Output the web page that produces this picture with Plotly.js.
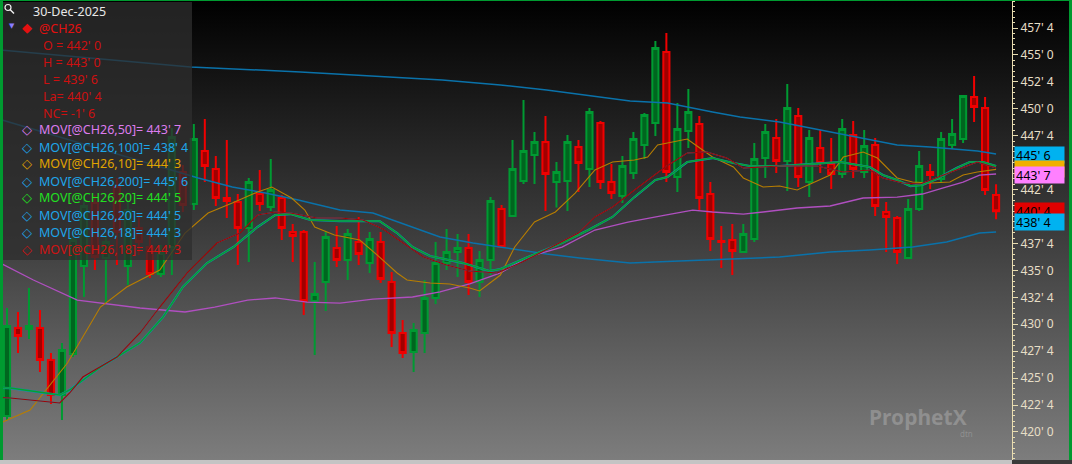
<!DOCTYPE html>
<html><head><meta charset="utf-8">
<script src="https://cdn.plot.ly/plotly-3.0.1.min.js"></script>
<style>
html,body{margin:0;padding:0;background:#000;overflow:hidden}
#wrap{position:relative;width:1072px;height:464px;background:linear-gradient(to bottom,#000 0%,#3c3c3c 50%,#7e7e7e 100%);}
#chart{position:absolute;left:0;top:0;width:1072px;height:464px}
.b{position:absolute;pointer-events:none}
</style></head><body>
<div id="wrap"><div id="chart"></div>
<div class="b" style="left:0;top:0;width:3px;height:460px;background:#009a30"></div>
<div class="b" style="left:0;top:0;width:1072px;height:1px;background:#009a30"></div>
<div class="b" style="left:1069px;top:0;width:3px;height:460px;background:#009a30"></div>
<div class="b" style="left:0;top:460px;width:1012px;height:4px;background:#c4c4c4"></div>
<div class="b" style="left:1012px;top:460px;width:60px;height:4px;background:#3a3a3a"></div>
</div>
<script>
// ---- Data ----
const openP = [421.48,429.65,429.56,429.65,426.68,423.43,427.24,435.41,441.25,436.15,442.74,435.41,438.93,437.17,434.66,437.17,444.13,441.16,446.08,444.41,441.72,441.35,438.93,442.09,440.88,441.72,438.56,438.56,432.16,433.92,437.08,435.96,437.63,435.68,437.63,433.92,429.19,427.42,429.19,432.44,435.68,436.7,437.08,433.92,435.96,440.7,440.05,443.3,445.71,446.92,443.2,443.3,446.45,444.41,448.68,443.2,441.9,444.04,446.64,448.68,455.27,443.67,447.94,448.59,442.09,437.73,437.82,436.7,437.91,445.43,447.29,445.15,449.33,443.2,446.36,444.88,443.95,447.57,444.13,446.64,440.42,439.86,436.15,440.7,444.13,443.48,446.64,447.2,451.09,450.07,442.0];
const highP = [431.51,431.14,433.36,431.32,427.33,428.26,438.56,441.72,442.0,438.19,443.58,441.53,440.14,438.28,437.36,448.22,444.78,448.59,449.05,445.62,447.1,442.09,443.58,444.32,445.34,442.0,439.3,438.75,435.78,438.56,439.12,438.84,439.95,438.56,438.56,434.85,430.39,430.11,434.11,437.63,438.84,438.38,438.38,436.8,441.81,441.07,447.1,450.82,447.85,449.33,445.06,447.57,447.1,450.07,448.87,444.88,445.62,447.85,449.61,456.29,457.04,450.54,451.84,449.33,443.2,439.12,439.3,439.3,446.82,448.59,449.05,452.3,450.07,448.03,448.03,447.29,449.05,448.87,448.03,447.29,441.35,440.05,441.63,446.08,444.88,447.85,449.05,451.28,453.04,451.09,443.0];
const lowP = [421.11,427.33,428.63,425.57,422.6,421.11,426.96,432.53,435.04,431.97,435.5,433.64,436.43,434.29,434.39,434.57,440.42,440.6,443.2,440.98,439.86,435.5,435.78,440.51,440.51,437.82,435.78,430.86,427.14,431.23,435.31,434.11,435.5,434.76,433.83,427.89,426.87,425.57,427.33,431.88,435.04,434.39,432.71,432.53,434.57,437.08,439.95,443.02,443.02,440.51,440.83,440.51,442.28,442.74,442.55,441.63,441.25,443.48,445.34,447.47,443.2,442.28,446.36,440.6,436.8,435.22,434.57,436.61,437.63,443.58,444.04,442.37,442.74,441.81,444.04,442.55,443.58,443.58,443.58,440.05,436.7,435.59,436.06,440.51,442.55,443.11,446.27,446.82,448.77,442.0,439.75];
const closeP = [429.84,428.91,429.84,426.68,423.43,427.61,437.82,440.98,436.24,437.63,438.56,440.6,437.63,434.66,436.61,447.38,441.07,447.2,444.69,441.72,441.44,438.93,443.2,441.16,442.46,438.93,438.19,432.16,432.81,438.1,435.96,438.38,436.52,437.91,434.2,429.19,427.33,429.47,432.44,435.68,436.7,437.08,433.92,435.96,441.44,437.17,444.41,446.08,446.92,443.95,444.13,446.92,444.97,449.7,443.2,442.18,444.69,447.2,449.42,455.64,444.13,448.12,449.7,441.72,437.91,437.63,436.8,438.38,445.34,447.85,445.15,450.07,443.67,447.29,444.97,443.95,448.12,444.41,446.55,440.98,439.95,436.7,440.7,444.69,443.85,447.2,447.66,451.19,450.17,442.46,440.5];
const barIdx = openP.map((_, i) => i);

const ma10Idx = [-0.6,2.1,5.5,8.5,10.9,13.9,16.2,18.3,20.5,22.8,24.1,25.9,27.1,28.0,29.8,32.1,33.9,35.5,36.4,38.5,40.3,42.1,43.0,43.9,44.9,46.2,48.0,49.9,51.7,53.5,55.1,57.1,58.3,59.2,60.1,61.9,62.4,64.2,66.1,67.0,68.8,70.3,71.9,73.3,74.9,76.1,77.9,79.2,81.0,82.4,84.0,85.8,87.0,88.3,90];
const ma10Val = [420.83,422.04,426.4,431.6,433.46,435.04,438.47,440.33,441.25,442.28,442.74,441.72,440.6,439.03,438.28,437.82,436.24,434.76,434.11,433.83,433.74,433.36,433.09,433.83,434.57,437.17,439.49,440.42,442.18,444.32,445.06,445.25,445.52,446.64,446.82,447.2,446.82,445.52,444.6,443.58,442.74,442.83,442.46,443.11,443.85,445.52,445.99,445.43,443.58,443.2,443.11,443.2,443.85,444.13,444.38];
const ma20Idx = [-0.6,0.3,4.8,5.7,8.5,12.1,14.2,16.0,18.2,20.6,22.8,24.4,25.8,27.6,30.3,33.9,35.5,36.9,38.5,41.5,43.9,44.9,47.4,50.5,52.9,55.1,57.1,59.0,60.1,61.9,64.2,66.1,67.6,70.3,73.3,75.8,78.5,79.7,81.0,82.2,83.3,84.6,86.4,87.6,88.8,90];
const ma20Val = [424.1,424.08,423.43,423.9,426.03,428.26,430.67,433.46,435.68,437.17,439.03,440.14,440.23,439.68,439.58,439.58,438.47,437.17,436.33,435.68,434.94,435.13,436.24,437.54,438.75,439.96,441.81,443.39,443.67,445.06,445.43,444.97,444.69,444.69,444.88,445.06,444.6,443.85,443.39,442.83,442.93,443.48,444.5,445.06,445.06,444.69];
const ma18Idx = [-0.6,0.3,3.9,4.8,5.7,6.9,10.0,12.1,13.9,16.4,19.1,21.2,22.8,24.4,25.8,28.2,30.3,32.4,34.2,36.0,37.9,40.0,42.1,44.6,46.9,49.9,52.0,53.5,55.1,57.1,58.7,59.9,61.9,63.7,65.5,67.0,70.3,73.7,76.1,78.5,79.7,81.5,83.1,84.6,86.4,88.3,90];
const ma18Val = [423.2,423.15,422.78,422.69,423.62,425.1,426.96,429.19,431.6,434.76,437.54,438.47,440.14,440.42,440.33,439.86,439.86,439.68,438.84,437.54,436.24,435.5,434.94,434.76,435.78,437.36,438.47,439.96,440.88,442.46,443.67,444.6,445.9,445.99,445.43,444.5,444.69,444.69,444.13,444.32,443.58,443.11,443.02,443.58,444.32,445.06,444.5];
const ma50Idx = [-0.6,2.4,6.4,8.5,12.1,16.2,18.9,21.9,24.4,27.3,30.3,33.3,36.9,39.4,42.1,43.9,44.9,47.4,50.5,53.5,56.5,59.9,62.4,64.2,67.0,68.8,71.9,74.9,77.9,81.0,83.3,85.2,87.0,88.5,90];
const ma50Val = [435.68,434.11,432.25,431.97,431.51,431.14,431.6,432.25,432.44,432.06,431.97,432.34,432.53,433.0,433.74,434.39,434.76,436.24,437.17,438.75,439.49,440.14,440.6,440.42,440.23,440.42,440.79,440.98,441.72,441.81,442.09,442.65,443.2,443.85,443.95];
const ma100Idx = [-0.6,8.5,17.4,20.5,23.5,26.5,30.3,33.3,36.4,39.4,42.4,44.9,49.1,52.1,56.7,61.2,66.7,70.3,74.9,78.5,82.4,85.5,88.5,90];
const ma100Val = [449.0,446.27,443.58,442.74,442.18,441.53,440.6,440.33,439.21,438.1,437.54,437.17,436.52,436.15,435.68,435.87,436.06,436.24,436.7,436.89,437.17,437.63,438.47,438.56];
const ma200Idx = [-0.6,16.7,26.7,39.6,44.9,49.1,56.7,60.1,64.2,66.7,70.3,74.9,81.0,84.0,88.3,90];
const ma200Val = [455.46,453.88,453.42,452.67,452.21,451.74,450.72,450.54,449.7,449.24,448.77,447.85,446.64,446.45,446.08,445.8];

const tickVals = [420,422.5,425,427.5,430,432.5,435,437.5,440,442.5,445,447.5,450,452.5,455,457.5];
// the 445' 0 label is fully hidden behind the value tags in the reference
const tickText = ["420' 0","422' 4","425' 0","427' 4","430' 0","432' 4","435' 0","437' 4","440' 0","442' 4","","447' 4","450' 0","452' 4","455' 0","457' 4"];

const headerDate = "30-Dec-2025";
const symbol = "@CH26";
const quoteLines = ["O = 442' 0","H = 443' 0","L = 439' 6","La= 440' 4","NC= -1' 6"];
const movLabels = ["MOV[@CH26,50]= 443' 7","MOV[@CH26,100]= 438' 4","MOV[@CH26,10]= 444' 3","MOV[@CH26,200]= 445' 6","MOV[@CH26,20]= 444' 5","MOV[@CH26,20]= 444' 5","MOV[@CH26,18]= 444' 3","MOV[@CH26,18]= 444' 3"];
const movColors = ["#dd7cee","#1ea6ea","#e0a400","#1ea6ea","#22e022","#1ea6ea","#1ea6ea","#d01212"];

// axis value tags (MA200, MA10, MA50, last price, MA100); the MA10 tag is mostly hidden under the MA50 tag
const tagVals = [445.75,444.375,443.875,440.5,438.5];
const tagText = ["445' 6","","443' 7","440' 4","438' 4"];
const tagColors = ["#00b2f0","#f0b000","#ff80ff","#e00000","#00b2f0"];

// ---- Layout helpers (pixel -> paper) ----
const PW = 1012, PH = 460;
const px = x => x / PW, py = y => 1 - y / PH;
const FONT = "Noto Sans, Open Sans, sans-serif";

function lineTrace(x, y, color, width) {
  return {type:'scatter', mode:'lines', x:x, y:y, line:{color:color, width:width}, hoverinfo:'skip', showlegend:false};
}
const traces = [
  lineTrace(ma200Idx, ma200Val, '#0a72aa', 1.5),
  lineTrace(ma100Idx, ma100Val, '#0a72aa', 1.5),
  lineTrace(ma50Idx, ma50Val, '#b04fc0', 1.3),
  lineTrace(ma10Idx, ma10Val, '#b87e00', 1.1),
  lineTrace(ma20Idx, ma20Val, '#0b8fc0', 2.2),
  lineTrace(ma20Idx, ma20Val, '#08a02c', 1.5),
  lineTrace(ma18Idx, ma18Val, '#0b8fc0', 1),
  lineTrace(ma18Idx, ma18Val, '#a40000', 1.1),
  {type:'candlestick', x:barIdx, open:openP, high:highP, low:lowP, close:closeP,
   increasing:{line:{color:'#009a32', width:2}, fillcolor:'#00661f'},
   decreasing:{line:{color:'#f00000', width:2}, fillcolor:'#a00000'},
   whiskerwidth:0, hoverinfo:'skip', showlegend:false}
];

const ann = [];
function txt(x, y, text, color, size, family) {
  ann.push({xref:'paper', yref:'paper', x:px(x), y:py(y), xanchor:'left', yanchor:'middle',
    text:text, showarrow:false, font:{family:family || FONT, size:size || 12.5, color:color}});
}
txt(31, 12, headerDate, '#e8e8e8', 12.5);
txt(7, 26, '▼', '#8a7cff', 7, 'DejaVu Sans');
txt(20, 28, '◆', '#e41010', 13, 'DejaVu Sans');
txt(37, 29, symbol, '#e41010', 12.5);
quoteLines.forEach((t, i) => txt(41, 46 + i * 16.8, t, '#cc1010', 12.5));
movLabels.forEach((t, i) => {
  const y = 130 + i * 17;
  txt(20, y, '◇', movColors[i], 13, 'DejaVu Sans');
  txt(37, y, t, movColors[i], 12.5);
});
tagVals.forEach((v, i) => {
  ann.push({xref:'paper', yref:'y', x:1, y:v, xanchor:'left', yanchor:'middle', xshift:2,
    yshift: i === 4 ? 11 : 0,
    text:tagText[i], showarrow:false, bgcolor:tagColors[i], width:47, height:14, borderpad:1,
    align:'left', font:{family:FONT, size:12.5, color:'#000'}});
});
ann.push({xref:'paper', yref:'paper', x:px(918), y:py(417), xanchor:'center', yanchor:'middle',
  text:'<b>Prophet</b><b>X</b>', showarrow:false, font:{family:FONT, size:21, color:'rgba(255,255,255,0.22)'}});
ann.push({xref:'paper', yref:'paper', x:px(966), y:py(433), xanchor:'center', yanchor:'middle',
  text:'dtn', showarrow:false, font:{family:FONT, size:8, color:'rgba(255,255,255,0.2)'}});

const shapes = [
  {type:'rect', xref:'paper', yref:'paper', x0:px(3), x1:px(192), y0:py(260), y1:py(2),
   fillcolor:'rgba(46,46,46,0.76)', line:{width:0}, layer:'above'},
  {type:'circle', xref:'paper', yref:'paper', x0:px(5), x1:px(11), y0:py(10.5), y1:py(4.5),
   line:{color:'#f0f0f0', width:1.2}, layer:'above'},
  {type:'line', xref:'paper', yref:'paper', x0:px(10), y0:py(9.5), x1:px(14), y1:py(13.5),
   line:{color:'#f0f0f0', width:1.5}, layer:'above'}
];

const layout = {
  width:1072, height:464,
  margin:{l:0, r:60, t:0, b:4, pad:0},
  paper_bgcolor:'rgba(0,0,0,0)', plot_bgcolor:'rgba(0,0,0,0)',
  showlegend:false, boxgap:0.2,
  xaxis:{range:[-0.637, 91.45], showgrid:false, zeroline:false, showticklabels:false, ticks:'',
         showline:false, rangeslider:{visible:false}, fixedrange:true},
  yaxis:{side:'right', range:[417.4, 460.1], tickmode:'array', tickvals:tickVals, ticktext:tickText,
         ticks:'outside', ticklen:5, tickwidth:1, tickcolor:'#e8dcb0',
         showline:true, linecolor:'#e8dcb0', linewidth:1, showgrid:false, zeroline:false,
         tickfont:{family:FONT, size:12, color:'#e6dec6'},
         minor:{tickmode:'linear', tick0:0, dtick:0.5, ticks:'outside', ticklen:2, tickcolor:'#e8dcb0', showgrid:false},
         fixedrange:true},
  shapes:shapes, annotations:ann, hovermode:false
};

Plotly.newPlot('chart', traces, layout, {displayModeBar:false, staticPlot:true});
</script>
</body></html>
